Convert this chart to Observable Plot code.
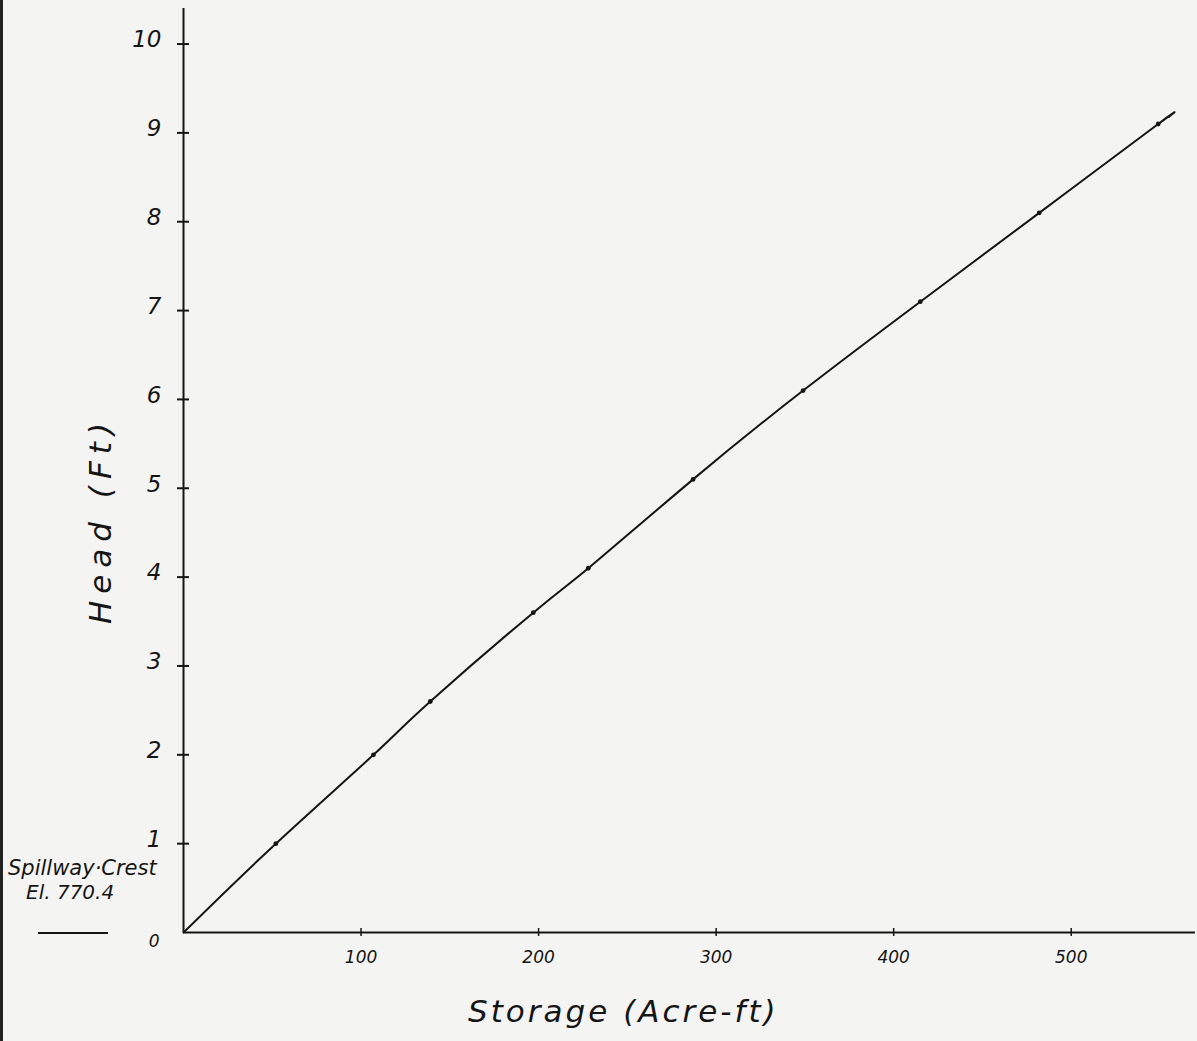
<!DOCTYPE html>
<html><head><meta charset="utf-8">
<script src="https://cdn.jsdelivr.net/npm/d3@7"></script>
<script src="https://cdn.jsdelivr.net/npm/@observablehq/plot@0.6"></script>
<style>
body{margin:0;background:#f4f4f2;}
#wrap{position:relative;width:1197px;height:1041px;overflow:hidden;font-family:"DejaVu Sans",sans-serif;color:#151515;}
#border{position:absolute;left:0;top:0;width:3px;height:1041px;background:#222;}
.lab{position:absolute;font-style:italic;white-space:nowrap;}
</style></head>
<body><div id="wrap"><div id="border"></div></div>
<script>
// Observed points on the elevation-storage curve (Storage acre-ft, Head ft)
const storage = [0, 52, 107, 139, 197, 228, 287, 349, 415, 482, 549, 555];
const head    = [0, 1.0, 2.0, 2.6, 3.6, 4.1, 5.1, 6.1, 7.1, 8.1, 9.1, 9.18];
// marked dots (skip origin and line end)
const dotStorage = [52, 107, 139, 197, 228, 287, 349, 415, 482, 549];
const dotHead    = [1.0, 2.0, 2.6, 3.6, 4.1, 5.1, 6.1, 7.1, 8.1, 9.1];
const xTicks = [100, 200, 300, 400, 500];
const yTicks = [0, 1, 2, 3, 4, 5, 6, 7, 8, 9, 10];
const xLabel = "Storage (Acre-ft)";
const yLabel = "Head (Ft)";
const noteLines = ["Spillway·Crest", "El. 770.4"];

const curve = storage.map((s, i) => ({s, h: head[i]}));
const dots = dotStorage.map((s, i) => ({s, h: dotHead[i]}));

const ink = "#151515";
const chart = Plot.plot({
  width: 1197, height: 1041,
  marginLeft: 183, marginRight: 2, marginTop: 8, marginBottom: 109,
  style: {background: "transparent", fontFamily: "DejaVu Sans, sans-serif", fontStyle: "italic", color: ink},
  x: {domain: [0, 570], axis: null},
  y: {domain: [0, 10.4], axis: null},
  marks: [
    Plot.ruleY([0], {stroke: ink, strokeWidth: 2}),
    Plot.ruleX([0], {y1: 0, y2: 10.4, stroke: ink, strokeWidth: 2}),
    Plot.axisX(xTicks, {anchor: "bottom", label: null, tickSize: 8, dy: -4, text: null, stroke: ink, strokeWidth: 1.5}),
    Plot.axisX(xTicks, {anchor: "bottom", label: null, tickSize: 0, tickPadding: 18, fontSize: 17, fill: ink, tickFormat: "d"}),
    Plot.axisY(yTicks.filter(d => d > 0), {anchor: "left", label: null, tickSize: 12, dx: 6, text: null, stroke: ink, strokeWidth: 2}),
    Plot.axisY(yTicks.filter(d => d > 0), {anchor: "left", label: null, tickSize: 0, tickPadding: 22, dy: -4, fontSize: 23, fill: ink, tickFormat: "d"}),
    Plot.axisY([0], {anchor: "left", label: null, tickSize: 0, tickPadding: 24, dy: 9, fontSize: 17, fill: ink, tickFormat: "d"}),
    Plot.line(curve, {x: "s", y: "h", curve: "natural", stroke: ink, strokeWidth: 2}),
    Plot.dot(dots, {x: "s", y: "h", r: 2.4, fill: ink})
  ]
});
const wrap = document.getElementById("wrap");
chart.style.position = "absolute"; chart.style.left = "0"; chart.style.top = "0";
wrap.appendChild(chart);

function addLabel(text, css) {
  const d = document.createElement("div");
  d.className = "lab"; d.textContent = text;
  Object.assign(d.style, css);
  wrap.appendChild(d);
  return d;
}
addLabel(xLabel, {left: "468px", top: "993px", fontSize: "31px", letterSpacing: "3px"});
const yl = addLabel(yLabel, {left: "0px", top: "0px", fontSize: "31px", letterSpacing: "7px"});
const w = yl.offsetWidth, h = yl.offsetHeight;
yl.style.transform = `translate(${100 - w/2}px, ${520 - h/2}px) rotate(-90deg)`;
addLabel(noteLines[0], {left: "8px", top: "856px", fontSize: "21px"});
addLabel(noteLines[1], {left: "26px", top: "880px", fontSize: "20px"});
const ul = document.createElement("div");
Object.assign(ul.style, {position: "absolute", left: "38px", top: "932px", width: "70px", height: "2px", background: ink});
wrap.appendChild(ul);
</script>
</body></html>
